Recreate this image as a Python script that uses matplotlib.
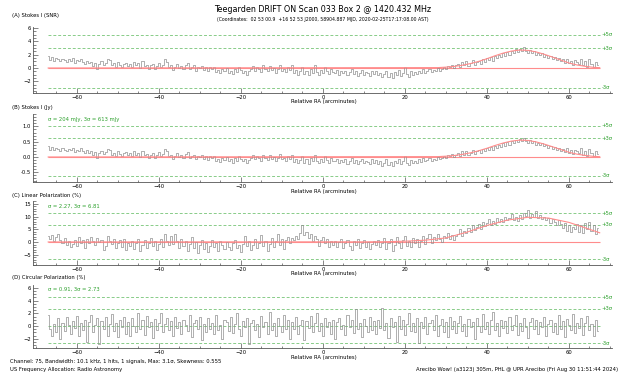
import numpy as np
import matplotlib.pyplot as plt
from matplotlib.ticker import MultipleLocator

# Stokes I signal-to-noise, one value every half arcminute from -67 to +67
stokes_snr = [
    1.8, 1.2, 1.6, 1.1, 1.5, 1.3, 1.0, 1.4, 1.2, 0.9, 1.3, 1.1, 1.5, 0.8, 1.2, 1.0, 1.4, 0.9, 0.6, 1.1,
    0.7, 0.9, 0.3, 0.8, -0.2, 0.6, 1.0, 0.5, 0.8, 1.3, 1.2, 0.4, 0.7, 0.2, 0.9, 0.5, 0.1, 0.6, 0.8, 0.3,
    0.6, 0.2, 0.9, 0.4, 0.7, 0.0, 1.0, 0.3, 0.5, -0.1, 0.4, 0.6, -0.2, 0.3, 0.8, 0.1, 0.5, 1.3, 0.9, 0.2,
    0.4, -0.3, 0.2, 0.6, 0.0, 0.3, -0.2, 0.5, 0.8, -0.1, 0.1, 0.4, -0.4, 0.2, 0.0, 0.3, -0.3, 0.1, -0.5, 0.2,
    -0.2, 0.1, -0.6, -0.3, -0.8, -0.1, -0.5, 0.0, -0.7, -0.4, -0.9, -0.2, -0.6, 0.1, -0.3, -0.7, -0.4, -1.0, -0.5, -0.2,
    0.3, -0.4, 0.2, -0.2, -0.6, 0.4, -0.1, -0.5, 0.3, -0.3, 0.0, -0.7, -0.2, 0.5, -0.4, -0.1, -0.6, 0.2, -0.3, 0.4,
    -0.8, -0.3, -1.0, -0.5, 0.1, -0.9, -0.4, -1.1, -0.2, -0.7, 0.4, -0.6, -1.0, -0.3, -0.8, 0.2, -0.5, -0.9, -0.2, -0.6,
    -0.7, -0.3, -1.0, -0.5, -0.8, -0.4, -1.1, -0.6, -0.2, -0.9, -0.5, -1.2, -0.7, -0.3, -1.0, -0.6, -0.8, -1.2, -0.4, -0.9,
    -0.5, -1.1, -0.7, -1.4, -0.9, -0.4, -1.3, -0.8, -1.5, -0.6, -1.0, -0.3, -1.2, -0.7, 0.1, -0.9, -1.3, -0.5, -1.0, -0.6,
    -0.9, -0.4, -0.8, -0.2, -0.7, -0.5, -0.1, -0.6, -0.3, -0.5, 0.0, -0.4, -0.1, 0.2, -0.2, 0.3, 0.1, 0.5, 0.0, 0.4,
    0.6, 0.2, 0.9, 0.4, 1.0, 0.3, 0.7, 1.2, 0.5, 0.9, 1.1, 0.6, 1.3, 0.9, 1.5, 1.2, 1.6, 1.1, 1.8, 1.5,
    1.9, 1.6, 2.2, 1.8, 2.4, 2.0, 2.6, 2.3, 2.8, 2.4, 2.9, 2.5, 3.1, 2.6, 2.3, 2.7, 2.2, 2.5, 2.0, 2.3,
    1.9, 2.2, 1.7, 2.0, 1.5, 1.8, 1.3, 1.6, 1.2, 1.5, 1.0, 1.3, 0.8, 1.4, 0.7, 1.1, 0.5, 1.2, 0.9, 0.6,
    1.4, 0.4, 1.0, 0.2, 1.3, 0.6, 0.1, 0.9, 0.5,
]

# linear polarization in percent
lin_pol = [
    2.5, 1.2, 2.8, 0.5, 1.8, 3.2, 0.8, -0.5, 1.5, -1.2, 0.3, -2.0, -0.8, 0.9, -1.5, 1.8, -0.3, 0.6, -2.2, 1.2,
    -0.5, 2.0, 0.4, -1.0, 1.5, -0.2, 0.8, -3.0, -1.5, 2.4, 0.2, -0.8, 1.0, -2.5, -0.4, 0.7, -1.8, 1.3, -3.2, -0.6,
    -1.5, 0.5, -2.8, -0.5, 1.2, -3.5, -1.0, 0.8, -2.2, -0.3, 1.5, -1.6, 0.2, -3.0, -0.8, 1.0, -2.0, 3.0, 0.4, -1.2,
    2.5, -0.8, 3.2, 0.5, -2.5, 1.0, -1.5, 0.3, -3.5, -0.7, 1.8, -2.2, -0.2, -4.5, -1.0, 0.6, -2.8, -0.4, -3.8, -1.5,
    0.8, -2.0, -0.5, -3.5, 0.3, -1.2, -2.6, 0.0, -1.8, -3.0, -0.6, 0.9, -2.4, -1.0, -4.0, -0.8, 2.5, -1.5, 0.4, -3.2,
    -1.0, 1.2, -2.5, -0.4, 2.8, -1.6, 0.5, -3.5, -0.8, 1.6, -2.0, 0.2, 3.0, -1.2, 1.0, -2.8, 0.6, 2.0, -0.6, 1.4,
    0.8, 2.2, 1.0, 3.5, 6.5, 2.8, 4.0, 1.5, 3.2, 0.5, 2.5, 1.0, -1.5, 0.8, 2.0, -0.5, 1.2, -2.0, 0.4, -1.0,
    0.5, -1.8, -0.2, 1.0, -2.5, -0.6, 0.8, -1.5, -3.0, 0.2, -1.0, 1.2, -2.2, -0.4, 0.6, -1.8, 0.0, -2.6, -0.8, 0.5,
    -1.2, 0.8, -2.0, -0.3, 1.5, -2.8, -0.6, 1.0, -3.5, -1.2, 2.0, -0.4, -2.5, 0.8, 2.2, -1.5, 0.3, -2.0, 1.6, -0.6,
    1.2, -1.8, 0.5, 2.5, -0.8, 1.5, 3.0, -0.4, 2.0, 0.6, 3.2, 1.0, 0.0, 2.5, 1.5, 3.5, 1.2, 2.8, 0.8, 2.2,
    3.0, 5.0, 2.5, 4.2, 3.5, 5.5, 4.0, 6.5, 4.8, 5.8, 7.0, 5.2, 8.0, 6.2, 7.5, 9.0, 6.8, 8.2, 7.2, 9.5,
    8.0, 9.2, 7.8, 10.0, 8.5, 9.5, 11.0, 8.8, 9.8, 8.2, 10.5, 9.0, 11.5, 10.2, 12.5, 9.6, 11.0, 10.0, 12.0, 9.4,
    10.5, 9.0, 10.0, 8.6, 9.5, 7.5, 9.0, 8.0, 6.5, 8.5, 7.0, 5.5, 7.5, 4.5, 6.8, 3.8, 6.0, 5.0, 7.0, 4.0,
    6.5, 3.5, 7.5, 5.2, 8.0, 4.5, 6.5, 3.2, 5.5,
]

# circular polarization in percent
circ_pol = [
    1.8, -0.5, -1.5, 0.3, -1.0, 1.2, -2.0, 0.5, -0.8, 1.5, 0.2, -1.2, 0.8, -0.3, 1.6, -1.6, 0.4, -0.6, 1.0, -2.5,
    0.6, 1.8, -1.0, 0.2, 1.2, -2.8, 0.8, -0.4, 1.4, -1.5, 0.3, 1.9, -0.8, 0.5, -1.8, 1.0, -0.2, 1.5, -1.2, 0.7,
    -1.6, 1.2, 0.0, -0.9, 2.0, -0.5, 0.9, -1.4, 1.6, -0.2, 0.6, -1.9, 1.1, -0.6, 0.4, 2.1, -1.0, 0.3, 1.3, -0.7,
    0.8, -1.5, 1.5, -0.3, 0.6, -1.2, 1.0, 0.2, -0.8, 1.8, -1.8, 0.4, 0.9, -0.5, 1.4, -2.2, 0.3, -1.0, 1.2, -0.4,
    0.5, -1.3, 1.7, -0.6, 0.2, -2.0, 1.0, 0.6, -0.8, 1.5, -1.1, 0.3, 2.0, -0.4, -1.6, 0.8, -0.2, 1.3, -2.9, 0.4,
    1.0, -0.7, 0.3, -1.8, 1.6, -0.2, 0.7, -1.2, 2.2, -0.6, 0.5, -1.5, 1.2, 0.0, -1.0, 1.8, -0.4, 0.9, -2.0, 0.6,
    -0.5, 1.4, -1.2, 0.2, 1.0, -2.2, 0.8, -0.3, 1.6, -1.0, 0.4, 2.1, -0.8, 0.5, -1.6, 1.2, -0.1, 0.7, -1.3, 0.9,
    -2.0, 0.6, 1.3, -0.5, 0.2, -1.4, 1.8, -0.2, 0.9, -1.1, 2.7, -0.4, 0.5, -1.8, 1.1, 0.0, -0.9, 1.5, -0.6, 0.8,
    -1.2, 1.0, -0.3, 2.8, -0.7, 0.4, -1.9, 1.3, -0.2, 0.6, -2.5, 1.6, -0.5, 0.9, -1.4, 0.3, 2.0, -0.8, 0.5, -1.0,
    1.2, -2.6, 0.7, -0.3, 1.5, -1.2, 0.4, 0.9, -0.6, 1.8, -1.5, 0.2, 1.1, -0.9, 0.6, -1.8, 1.4, -0.4, 0.8, -1.1,
    0.5, 1.6, -0.8, 0.3, -1.5, 1.1, -0.2, 0.7, -2.0, 1.3, 0.0, -1.0, 1.9, -0.5, 0.6, -1.3, 0.9, 2.2, -0.7, 0.4,
    -1.6, 1.0, -0.3, 0.8, -1.1, 1.5, -0.6, 0.2, 1.7, -1.4, 0.5, -0.8, 1.2, -0.1, -1.9, 0.7, 1.3, -0.5, 0.9, -1.2,
    0.6, -0.2, 1.4, -1.6, 0.3, 1.0, -0.9, 0.5, -1.3, 1.8, -0.4, 0.8, -1.7, 1.1, 0.2, -0.7, 1.9, -1.1, 0.4, -0.3,
    1.2, -1.4, 0.5, 1.6, -0.6, 0.3, -1.5, 1.0, -0.8,
]

fit_ra = [-67, 28, 30, 32, 34, 36, 38, 40, 42, 44, 46, 48, 50, 52, 54, 56, 58, 60, 62, 64, 66, 67.5]
fit_snr = [0, 0.06, 0.13, 0.24, 0.42, 0.67, 1.0, 1.4, 1.85, 2.25, 2.55, 2.7, 2.65, 2.42, 2.06, 1.64,
           1.2, 0.75, 0.45, 0.25, 0.1, 0.05]
fit_lp_ra = [-67, 10, 15, 20, 25, 30, 35, 40, 45, 50, 55, 60, 65, 67.5]
fit_lp = [0, 0.05, 0.1, 0.3, 0.7, 1.6, 3.8, 6.5, 8.6, 9.7, 9.4, 7.7, 5.0, 3.6]

sigma_jy = 0.204
sigma_lp = 2.27
sigma_cp = 0.91

ra = np.linspace(-67, 67, len(stokes_snr))
stokes_jy = np.array(stokes_snr) * sigma_jy
fit_jy = np.array(fit_snr) * sigma_jy

W, H = 626, 375
fig = plt.figure(figsize=(W / 100, H / 100), dpi=100)

GRAY = '#8f8f8f'
RED = '#ff8c8c'
GREEN = '#88cc88'
TGREEN = '#2ca02c'


def fx(x):
    return x / W


def fy(y):
    return 1 - y / H


def make_ax(top, bottom, ylim, major, minor):
    ax = fig.add_axes([fx(33), fy(bottom), fx(612 - 33), (bottom - top) / H])
    ax.set_xlim(-70.7, 70.5)
    ax.set_ylim(*ylim)
    for s in ['top', 'right']:
        ax.spines[s].set_visible(False)
    for s in ['left', 'bottom']:
        ax.spines[s].set_linewidth(0.6)
        ax.spines[s].set_color('#555555')
    ax.xaxis.set_major_locator(MultipleLocator(20))
    ax.xaxis.set_minor_locator(MultipleLocator(5))
    ax.yaxis.set_major_locator(MultipleLocator(major))
    ax.yaxis.set_minor_locator(MultipleLocator(minor))
    ax.tick_params(which='both', direction='in', labelsize=3.8, width=0.5, color='#555555', pad=1.5)
    ax.tick_params(which='major', length=3.5)
    ax.tick_params(which='minor', length=1.8)
    return ax


def sigma_lines(ax, sig, zero_dashed=False):
    for k, lab in [(5, '+5σ'), (3, '+3σ'), (-3, '-3σ')]:
        ax.hlines(k * sig, -67, 67.5, colors=GREEN, linestyles=(0, (3, 2)), lw=0.7)
        ax.text(68.0, k * sig, lab, color=TGREEN, fontsize=3.8, va='center', ha='left')
    if zero_dashed:
        ax.hlines(0, -67, 67.5, colors=GREEN, linestyles=(0, (3, 2)), lw=0.7)


# (A) Stokes I SNR
axA = make_ax(27, 93, (-3.76, 6.17), 2, 0.5)
sigma_lines(axA, 1.0)
axA.hlines(0, -67, 67.5, colors=RED, lw=0.8)
axA.step(ra, stokes_snr, where='mid', color=GRAY, lw=0.5)
axA.plot(fit_ra, fit_snr, color=RED, lw=0.8)

# (B) Stokes I Jy
axB = make_ax(114, 182, (-0.817, 1.405), 0.5, 0.1)
axB.yaxis.set_major_formatter(plt.FormatStrFormatter('%.1f'))
sigma_lines(axB, sigma_jy)
axB.hlines(0, -67, 67.5, colors=RED, lw=0.8)
axB.step(ra, stokes_jy, where='mid', color=GRAY, lw=0.5)
axB.plot(fit_ra, fit_jy, color=RED, lw=0.8)

# (C) linear polarization
axC = make_ax(201, 265, (-9.05, 16.1), 5, 1)
sigma_lines(axC, sigma_lp)
axC.hlines(0, -67, 67.5, colors=RED, lw=0.8)
axC.step(ra, lin_pol, where='mid', color=GRAY, lw=0.5)
axC.plot(fit_lp_ra, fit_lp, color=RED, lw=0.8)

# (D) circular polarization
axD = make_ax(285, 348, (-3.46, 6.46), 2, 0.5)
sigma_lines(axD, sigma_cp, zero_dashed=True)
axD.step(ra, circ_pol, where='mid', color=GRAY, lw=0.5)

# texts
fig.text(fx(323), fy(10), 'Teegarden DRIFT ON Scan 033 Box 2 @ 1420.432 MHz',
         ha='center', va='center', fontsize=5.8)
fig.text(fx(323), fy(19), '(Coordinates:  02 53 00.9  +16 52 53 J2000, 58904.887 MJD, 2020-02-25T17:17:08.00 AST)',
         ha='center', va='center', fontsize=3.3)

for y, lab in [(15, '(A) Stokes I (SNR)'), (108, '(B) Stokes I (Jy)'),
               (195, '(C) Linear Polarization (%)'), (278, '(D) Circular Polarization (%)')]:
    fig.text(fx(12), fy(y), lab, ha='left', va='center', fontsize=3.8)

for y, lab in [(119, 'σ = 204 mJy, 3σ = 613 mJy'), (206, 'σ = 2.27, 3σ = 6.81'),
               (289, 'σ = 0.91, 3σ = 2.73')]:
    fig.text(fx(48), fy(y), lab, ha='left', va='center', fontsize=3.8, color=TGREEN)

for y in [102, 191, 274, 357]:
    fig.text(fx(324), fy(y), 'Relative RA (arcminutes)', ha='center', va='center', fontsize=3.8)

fig.text(fx(10), fy(362), 'Channel: 75, Bandwidth: 10.1 kHz, 1 hits, 1 signals, Max: 3.1σ, Skewness: 0.555',
         ha='left', va='center', fontsize=3.8)
fig.text(fx(10), fy(369), 'US Frequency Allocation: Radio Astronomy', ha='left', va='center', fontsize=3.8)
fig.text(fx(618), fy(369), 'Arecibo Wow! (a3123) 305m, PHL @ UPR Arecibo (Fri Aug 30 11:51:44 2024)',
         ha='right', va='center', fontsize=3.8)

fig.savefig('out.png', dpi=100)
